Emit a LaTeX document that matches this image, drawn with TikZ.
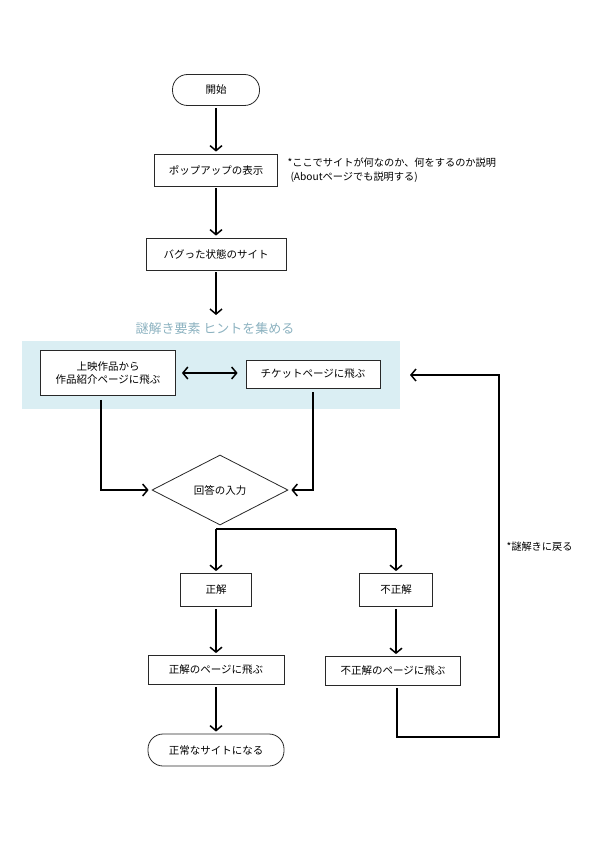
\documentclass[tikz,border=0pt]{standalone}
\usepackage{fontspec}
\setmainfont{Noto Sans CJK JP}
\usepackage{xcolor}
\usetikzlibrary{calc,positioning,arrows.meta,shapes.geometric}
\definecolor{hintbg}{RGB}{218,238,243}
\definecolor{hinttext}{RGB}{140,178,192}
\definecolor{boxline}{RGB}{40,40,40}

\begin{document}
\begin{tikzpicture}[x=1pt, y=-1pt,
  box/.style={draw=boxline, line width=0.8pt, fill=white, font=\fontsize{10.5}{13.5}\selectfont,
    align=center, inner sep=2pt},
  term/.style={box, rounded corners=15pt},
  flow/.style={line width=1.5pt, -{Straight Barb[length=5pt, width=12pt, line width=1.5pt]}},
  note/.style={font=\fontsize{10.2}{14}\selectfont, align=left, anchor=west},
]
  \useasboundingbox (0,0) rectangle (595,842);

  % Hint area
  \fill[hintbg] (22,341) rectangle (400,409);
  \node[font=\fontsize{13}{15}\selectfont, text=hinttext] (hintlabel) at (215,329)
    {謎解き要素 ヒントを集める};

  % Main column
  \node[term, minimum width=87pt, minimum height=31pt] (start) at (216,90) {開始};
  \node[box, minimum width=123pt, minimum height=32pt] (popup) at (216,170) {ポップアップの表示};
  \node[box, minimum width=140pt, minimum height=32pt] (bugsite) at (216,254) {バグった状態のサイト};
  \coordinate (hintin) at (216,315);
  \node[note] (popupnote) at (284,170)
    {*ここでサイトが何なのか、何をするのか説明\\\hspace*{3pt}(Aboutページでも説明する)};

  % Hint pages
  \node[box, minimum width=135pt, minimum height=45pt] (moviepage) at (108,373)
    {上映作品から\\作品紹介ページに飛ぶ};
  \node[box, minimum width=134pt, minimum height=28pt] (ticketpage) at (313,374)
    {チケットページに飛ぶ};

  % Answer
  \node[box, diamond, aspect=1.95, minimum width=136pt, minimum height=70pt, inner sep=0pt]
    (answer) at (220,490) {回答の入力};
  \coordinate (split) at (216,529);

  % Results
  \node[box, minimum width=71pt, minimum height=33pt] (correct) at (216,590) {正解};
  \node[box, minimum width=73pt, minimum height=33pt] (wrong) at (396,590) {不正解};
  \node[box, minimum width=136pt, minimum height=29pt] (correctpage) at (216,670) {正解のページに飛ぶ};
  \node[box, minimum width=135pt, minimum height=29pt] (wrongpage) at (393,671) {不正解のページに飛ぶ};
  \node[term, minimum width=136pt, minimum height=32pt] (finish) at (216,750) {正常なサイトになる};

  % Loop back
  \coordinate (loopa) at (397,737);
  \coordinate (loopb) at (499,737);
  \coordinate (loopc) at (499,375);
  \coordinate (loopend) at (410,375);
  \node[note] (loopnote) at (503,547) {*謎解きに戻る};

  % Connectors
  \draw[flow, shorten <=2pt, shorten >=2pt] (start) -- (popup);
  \draw[flow, shorten <=2pt, shorten >=2pt] (popup) -- (bugsite);
  \draw[flow, shorten <=2pt] (bugsite) -- (hintin);
  \draw[line width=1.5pt, {Straight Barb[length=5pt, width=12pt, line width=1.5pt]}-{Straight Barb[length=5pt, width=12pt, line width=1.5pt]},
    shorten <=6pt, shorten >=8pt] (moviepage) -- (moviepage -| ticketpage.west);
  \draw[flow, shorten <=4pt, shorten >=3pt] ([xshift=-7pt]moviepage.south) |- (answer.west);
  \draw[flow, shorten <=4pt, shorten >=3pt] (ticketpage.south) |- (answer.east);
  \draw[line width=1.5pt] (split) -- (split -| wrong);
  \draw[flow, shorten >=2pt] (split) -- (correct);
  \draw[flow, shorten >=2pt] (split -| wrong) -- (wrong);
  \draw[flow, shorten <=2pt, shorten >=2pt] (correct) -- (correctpage);
  \draw[flow, shorten <=2pt, shorten >=2pt] (wrong) -- (wrong |- wrongpage.north);
  \draw[flow, shorten <=2pt, shorten >=2pt] (correctpage) -- (finish);
  \draw[flow, shorten <=2pt] (wrongpage.south -| loopa) -- (loopa) -- (loopb) -- (loopc) -- (loopend);
\end{tikzpicture}
\end{document}
